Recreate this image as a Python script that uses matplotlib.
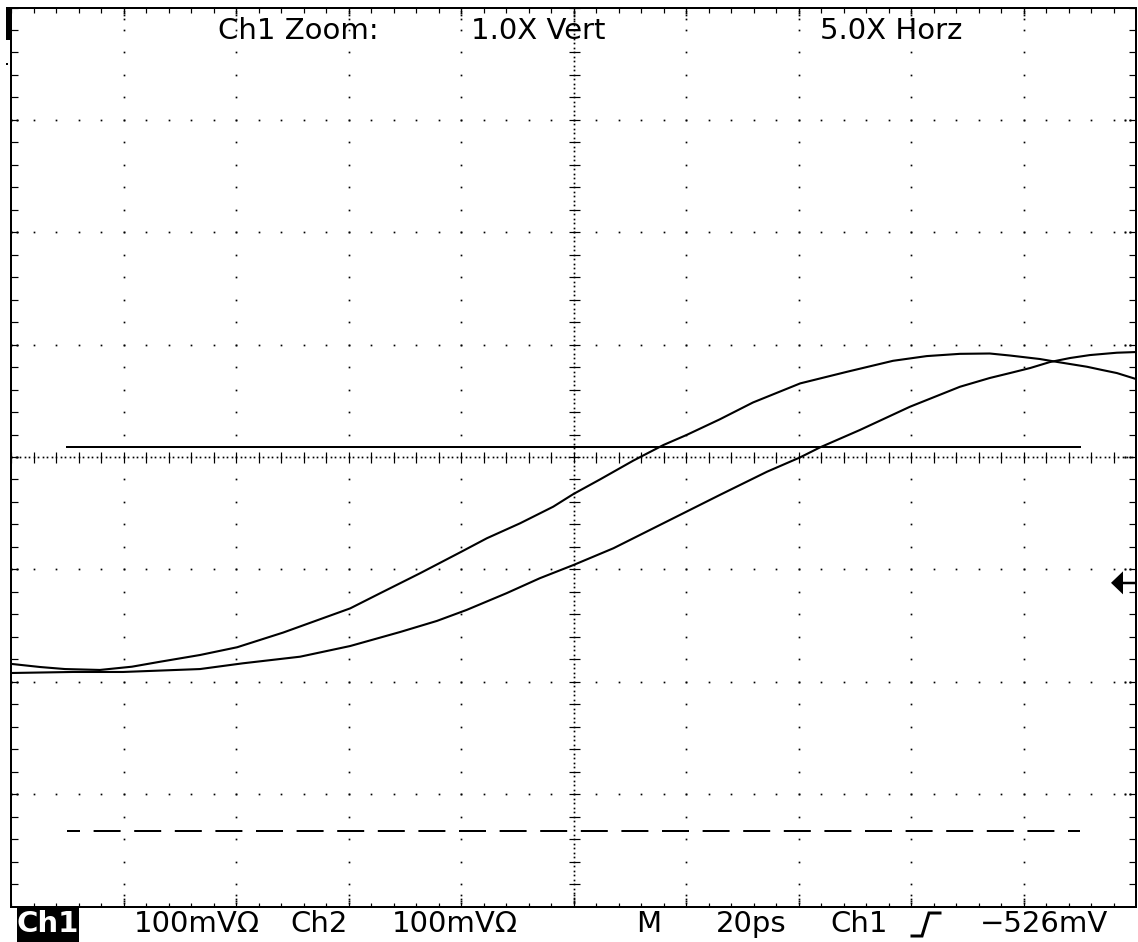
import numpy as np
import matplotlib
matplotlib.use("Agg")
import matplotlib.pyplot as plt
from matplotlib.patches import Polygon, Rectangle
from matplotlib.lines import Line2D

# ---- waveform data (time in ps, voltage in mV relative to screen centre) ----
ch1_t = [0.2, 5.2, 9.6, 15.8, 21.5, 26.5, 33.6, 40.2, 48.4, 60.3, 65.6, 72.7,
         80.1, 84.6, 90.5, 96.4, 100.0, 104.7, 110.6, 116.0, 120.1,
         126.0, 131.9, 140.3, 148.6, 156.8, 162.8, 168.7, 174.0, 177.6, 182.9,
         186.1, 191.3, 194.0, 196.6, 200.0]
ch1_v = [-184.2, -186.9, -188.7, -189.5, -186.6, -182.2, -176.2, -169.3, -156.2,
         -134.7, -121.3, -103.5, -84.2, -72.3, -59.0, -44.2, -32.9, -20.0,
         -3.3, 10.7, 19.6, 33.5, 48.5, 65.5, 75.8, 85.6, 89.8, 91.8, 92.1, 90.3,
         87.2, 84.5, 80.3, 77.4, 74.7, 69.4]

ch2_t = [0.2, 11.0, 19.9, 33.6, 41.2, 51.4, 60.3, 69.2, 75.7, 81.0, 88.1, 94.0,
         100.0, 107.1, 113.0, 120.1, 126.0, 134.4, 140.3, 143.8, 150.9, 159.8,
         168.7, 174.0, 177.6, 181.2, 184.7, 188.3, 191.8, 196.6, 200.0]
ch2_v = [-192.2, -191.3, -191.3, -188.7, -183.6, -177.7, -168.2, -155.7, -145.9,
         -136.1, -121.2, -107.9, -96.1, -81.2, -66.4, -48.6, -33.8, -13.1, -0.3,
         8.5, 24.0, 44.7, 62.5, 70.3, 74.7, 79.2, 84.5, 88.1, 90.7, 92.8, 93.4]

# reference levels drawn across the screen
ref_span_t = [10, 190]
solid_level_mv = 9
dashed_level_mv = -333
marker_level_mv = -112

# annotation texts
top_labels = ["Ch1 Zoom:", "1.0X Vert", "5.0X Horz"]
bottom_labels = ["100mV\u03a9", "Ch2", "100mV\u03a9", "M", "20ps", "Ch1", "\u2212526mV"]

# ---- screen geometry ----
W, H = 1138, 942
X0, X1, Y0, Y1 = 11, 1136, 7.5, 906.5   # plot frame in pixels (y from top)
T_MAX, V_MAX = 200, 400
PX_T = T_MAX / (X1 - X0)
PX_V = 2 * V_MAX / (Y1 - Y0)
PT = 72 / 100  # points per pixel

plt.rcParams['lines.scale_dashes'] = False
fig = plt.figure(figsize=(W / 100, H / 100), dpi=100)
fig.patch.set_facecolor("white")
ax = fig.add_axes([X0 / W, (H - Y1) / H, (X1 - X0) / W, (Y1 - Y0) / H])
ax.set_xlim(0, T_MAX)
ax.set_ylim(-V_MAX, V_MAX)
ax.set_xticks([])
ax.set_yticks([])
for s in ax.spines.values():
    s.set_linewidth(2 * PT)
    s.set_color("black")

K = "black"
minor_t = np.arange(0, T_MAX + 0.01, 4)
minor_v = np.arange(-V_MAX, V_MAX + 0.01, 20)
major_t = np.arange(20, T_MAX, 20)
major_v = np.arange(-300, V_MAX, 100)
dot = dict(ls="none", marker="s", ms=1.7 * PT, mew=0, color=K)

# dotted graticule
for t in major_t:
    if t == 100:
        continue
    ax.plot(np.full_like(minor_v, t), minor_v, **dot)
for v in major_v:
    if v == 0:
        continue
    ax.plot(minor_t, np.full_like(minor_t, v), **dot)

# centre axes: dense dots plus minor ticks
dense_t = np.arange(0, T_MAX + 0.01, 0.8)
dense_v = np.arange(-V_MAX, V_MAX + 0.01, 4)
ax.plot(dense_t, np.zeros_like(dense_t), **dot)
ax.plot(np.full_like(dense_v, 100), dense_v, **dot)
ax.plot(minor_t, np.zeros_like(minor_t), ls="none", marker="|", ms=11 * PT, mew=1.2 * PT, color=K)
ax.plot(np.full_like(minor_v, 100), minor_v, ls="none", marker="_", ms=11 * PT, mew=1.2 * PT, color=K)

# frame ticks: short marks at minor divisions, dotted runs at major lines
for v in (-V_MAX, V_MAX):
    ax.plot(minor_t, np.full_like(minor_t, v), ls="none", marker="|", ms=9 * PT, mew=1.2 * PT, color=K)
    sgn = -1 if v > 0 else 1
    for k in range(1, 5):
        ax.plot(major_t, np.full_like(major_t, v + sgn * 2.6 * k * PX_V), **dot)
for t in (0, T_MAX):
    ax.plot(np.full_like(minor_v, t), minor_v, ls="none", marker="_", ms=14 * PT, mew=1.2 * PT, color=K)
    sgn = 1 if t == 0 else -1
    for k in range(1, 5):
        ax.plot(np.full_like(major_v, t + sgn * 2.6 * k * PX_T), major_v, **dot)

# waveforms
ax.plot(ch1_t, ch1_v, color=K, lw=2.1 * PT, solid_joinstyle="round")
ax.plot(ch2_t, ch2_v, color=K, lw=2.1 * PT, solid_joinstyle="round")

# reference lines
ax.plot(ref_span_t, [solid_level_mv] * 2, color=K, lw=2 * PT)
dl, = ax.plot(ref_span_t, [dashed_level_mv] * 2, color=K, lw=2 * PT)
dl.set_linestyle((14 * PT, (27 * PT, 13.6 * PT)))
dl.set_dash_capstyle("butt")

# level marker arrow at the right edge
tip = T_MAX - 25 * PX_T
base = T_MAX - 13 * PX_T
half = 11.5 * PX_V
ax.add_patch(Polygon([[tip, marker_level_mv], [base, marker_level_mv + half],
                      [base, marker_level_mv - half]], closed=True, color=K, lw=0))
ax.plot([base, T_MAX], [marker_level_mv] * 2, color=K, lw=2.5 * PT)

# top-left indicator bar
fig.add_artist(Rectangle((6 / W, 1 - 40 / H), 6 / W, 33 / H, color=K, lw=0,
                         transform=fig.transFigure))
fig.add_artist(Rectangle((6 / W, 1 - 65 / H), 2 / W, 2 / H, color=K, lw=0,
                         transform=fig.transFigure))

# texts
fs = 21
top_x = [218, 471, 820]
for x, s in zip(top_x, top_labels):
    fig.text(x / W, 1 - 31 / H, s, fontsize=fs, family="DejaVu Sans", va="center", ha="left")

# inverse "Ch1" badge
fig.add_artist(Rectangle((17 / W, 0), 62 / W, (H - 908) / H, color=K, lw=0,
                         transform=fig.transFigure))
fig.text(48 / W, (H - 924) / H, "Ch1", fontsize=fs, family="DejaVu Sans",
         va="center", ha="center", color="white", fontweight="bold")

bottom_x = [134, 290, 392, 636, 716, 830, 980]
for x, s in zip(bottom_x, bottom_labels):
    fig.text(x / W, (H - 924) / H, s, fontsize=fs, family="DejaVu Sans", va="center", ha="left")

# rising-edge trigger glyph
fig.add_artist(Line2D([912 / W, 922 / W, 929 / W, 940 / W],
                      [(H - 936) / H, (H - 936) / H, (H - 913) / H, (H - 913) / H],
                      color=K, lw=3 * PT, transform=fig.transFigure, solid_joinstyle="miter"))

fig.savefig("out.png", dpi=100, facecolor="white")
